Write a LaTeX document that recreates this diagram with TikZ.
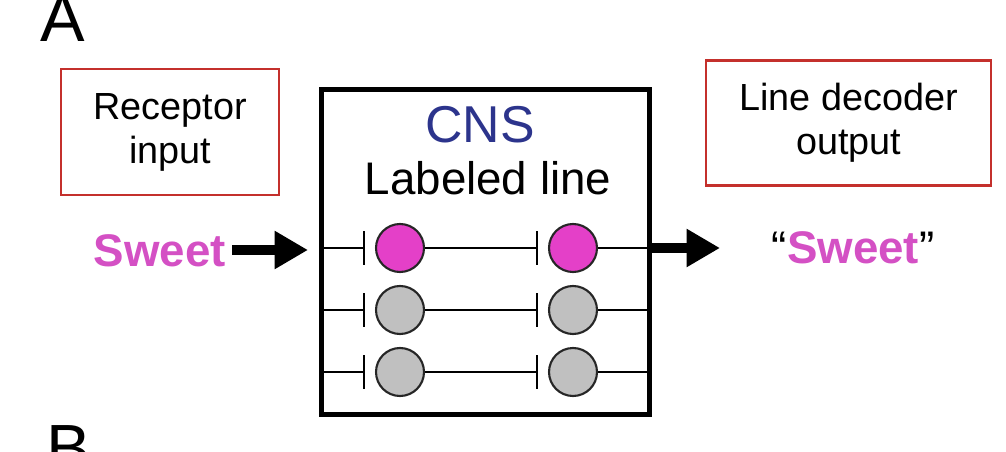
\documentclass[tikz,border=0pt]{standalone}
\usepackage{fontspec}
\setmainfont{Liberation Sans}
\usetikzlibrary{arrows.meta,positioning}
\definecolor{sweetpink}{RGB}{212,80,196}
\definecolor{cellpink}{RGB}{228,64,200}
\definecolor{boxred}{RGB}{196,48,44}
\definecolor{cnsblue}{RGB}{44,52,140}
\definecolor{cellgray}{RGB}{192,192,192}
\begin{document}
\begin{tikzpicture}[x=0.02cm,y=-0.02cm,
    redbox/.style={draw=boxred,line width=1.4pt,align=center,inner sep=0pt,
      font=\fontsize{21.5}{25}\selectfont},
    cell/.style={circle,draw=black!85,line width=1.2pt,minimum size=0.96cm,inner sep=0pt},
    wire/.style={line width=0.85pt},
    inhib/.style={wire,-{Bar[width=19pt,line width=1.2pt]},shorten >=5.5pt},
    fat/.style={line width=6pt,-{Triangle[length=19pt,width=20.5pt]}}]
    \useasboundingbox (0,0) rectangle (1006,452);
    %Panel letters
    \node[anchor=base west,font=\fontsize{38}{40}\selectfont] (lblA) at (34,42) {A};
    \node[anchor=base west,font=\fontsize{38}{40}\selectfont] (lblB) at (40,471) {B};
    %Red boxes
    \node[redbox,minimum width=4.36cm,minimum height=2.53cm] (receptor) at (170,132) {Receptor\\input};
    \node[redbox,minimum width=5.7cm,minimum height=2.5cm] (decoder) at (848.5,123) {Line decoder\\output};
    %CNS box
    \node[draw,line width=2.83pt,minimum width=6.57cm,minimum height=6.52cm] (cns) at (485.75,252) {};
    \node[font=\fontsize{29.5}{30}\selectfont,text=cnsblue,anchor=base] (cnslbl) at (480,143) {CNS};
    \node[font=\fontsize{26}{30}\selectfont,anchor=base] (labeled) at (488,195) {Labeled line};
    %Lines
    \foreach \i/\y/\c in {1/248/cellpink,2/310/cellgray,3/372/cellgray}{
      \node[cell,fill=\c] (first\i) at (400,\y) {};
      \node[cell,fill=\c] (second\i) at (573,\y) {};
      \draw[inhib] (cns.west |- first\i) -- (first\i);
      \draw[inhib] (first\i) -- (second\i);
      \draw[wire] (second\i) -- (cns.east |- second\i);
    }
    %Input and output
    \node[font=\bfseries\fontsize{26}{30}\selectfont,text=sweetpink,anchor=base] (sweetin) at (160,267) {Sweet};
    \node[font=\fontsize{26}{30}\selectfont,anchor=base] (sweetout) at (853,263) {“\textcolor{sweetpink}{\bfseries Sweet}”};
    \coordinate (intip) at (308,250);
    \coordinate (outtip) at (720,248);
    \draw[fat] (sweetin.east |- intip) -- (intip);
    \draw[fat] (cns.east |- outtip) -- (outtip);
\end{tikzpicture}
\end{document}
